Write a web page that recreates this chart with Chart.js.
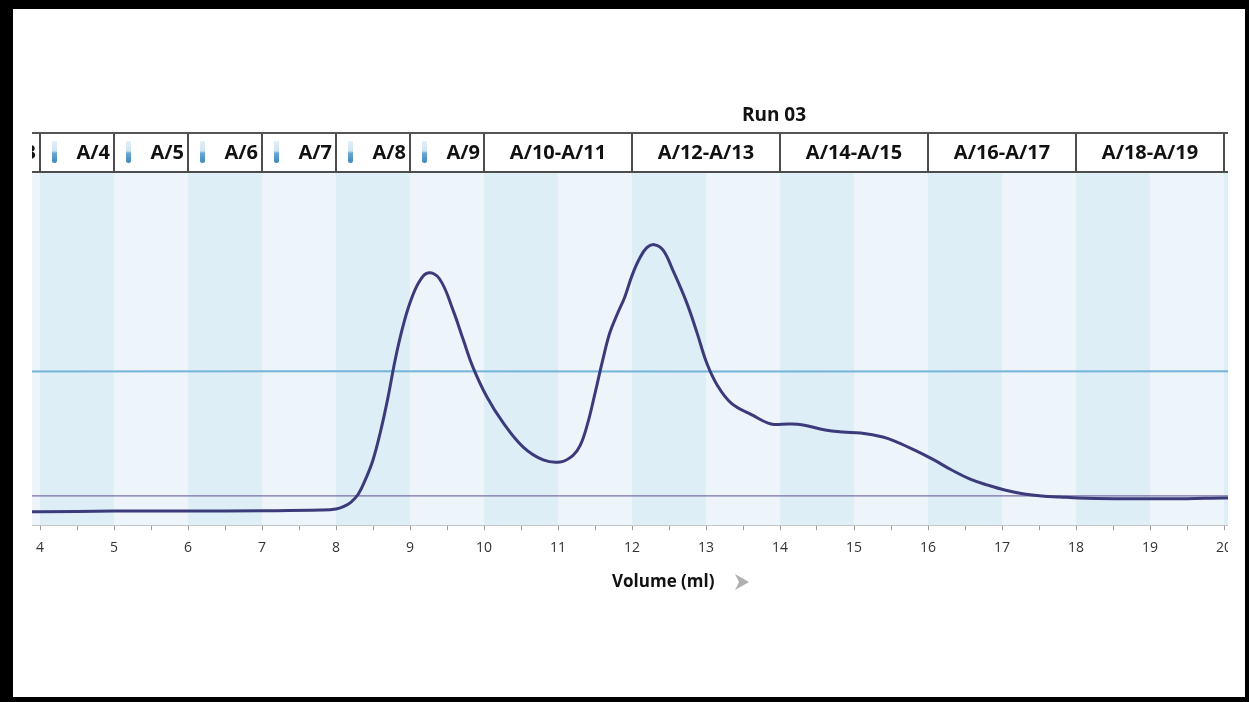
<!DOCTYPE html>
<html>
<head>
<meta charset="utf-8">
<script src="https://cdn.jsdelivr.net/npm/chart.js@4.4.1/dist/chart.umd.min.js"></script>
<style>
  html, body { margin: 0; padding: 0; background: #000; width: 1249px; height: 702px; overflow: hidden; }
  #frame { position: absolute; left: 13px; top: 9px; right: 4px; bottom: 5px; background: #fff; }
  #clip { position: absolute; left: 19px; top: 81px; width: 1196px; height: 540px; overflow: hidden; }
  #chart { position: absolute; left: -66px; top: 0; }
</style>
</head>
<body>
<div id="frame">
  <div id="clip"><canvas id="chart" width="1332" height="540"></canvas></div>
</div>
<script>
// UV trace (volume in ml, absorbance in mAU)
const volume = [3.4, 4.0, 5.0, 6.0, 7.0, 7.8, 8.0, 8.1, 8.2, 8.3, 8.4, 8.5, 8.6, 8.7, 8.8, 8.9, 9.0, 9.12, 9.24,
  9.4, 9.58, 9.72, 9.85, 10.04, 10.26, 10.53, 10.8, 11.03, 11.2, 11.3, 11.4, 11.5, 11.6, 11.7, 11.8, 11.9,
  12.0, 12.1, 12.2, 12.3, 12.42, 12.55, 12.74, 12.88, 13.01, 13.15, 13.34, 13.62, 13.88, 14.12, 14.31, 14.61,
  14.85, 15.09, 15.39, 15.58, 15.82, 16.08, 16.32, 16.57, 16.81, 17.05, 17.3, 17.54, 17.78, 18.04, 18.53,
  19.01, 19.5, 19.99, 20.6];
const uv = [-0.2, -0.2, 0, 0, 0.1, 0.3, 0.6, 1.3, 2.6, 5.0, 9.5, 15.2, 23.5, 33.5, 45.0, 54.5, 61.9, 68.0, 70.8,
  69.0, 59.8, 50.9, 42.8, 33.9, 26.2, 19.0, 15.2, 14.6, 16.5, 19.5, 26.0, 35.0, 44.5, 53.0, 58.5, 63.5,
  70.0, 75.0, 78.3, 79.2, 77.6, 71.7, 61.9, 52.9, 44.0, 37.5, 32.1, 28.6, 25.9, 25.9, 25.6, 24.1,
  23.5, 23.2, 22.0, 20.5, 18.1, 15.2, 12.2, 9.5, 7.7, 6.2, 5.1, 4.5, 4.2, 3.9, 3.7,
  3.7, 3.7, 3.9, 3.9];

// conductivity and concentration traces (flat)
const condVolume = [3.0, 8.0, 13.0, 21.0];
const cond = [41.5, 41.6, 41.5, 41.6];
const concVolume = [3.0, 21.0];
const conc = [4.5, 4.5];

// fractions
const fractionLabels = ['A/3', 'A/4', 'A/5', 'A/6', 'A/7', 'A/8', 'A/9',
  'A/10-A/11', 'A/12-A/13', 'A/14-A/15', 'A/16-A/17', 'A/18-A/19', 'A/20-A/21'];
const fractionStart = [3, 4, 5, 6, 7, 8, 9, 10, 12, 14, 16, 18, 20];
const fractionEnd = [4, 5, 6, 7, 8, 9, 10, 12, 14, 16, 18, 20, 22];

const xMin = 3, xMax = 21;
const labelMin = 4, labelMax = 20;

// canvas sits 34px left of the page edge
const OX = 34, OY = 90;

const pts = (xs, ys) => xs.map((v, i) => ({ x: v, y: ys[i] }));

const decor = {
  id: 'decor',
  beforeDraw(chart) {
    const { ctx, chartArea: a, scales: { x } } = chart;
    ctx.save();
    for (let v = xMin; v < xMax; v++) {
      ctx.fillStyle = v % 2 === 0 ? '#deeef7' : '#edf5fa';
      const l = x.getPixelForValue(v), r = x.getPixelForValue(v + 1);
      ctx.fillRect(l, a.top, r - l, a.bottom - a.top);
    }
    ctx.restore();
  },
  afterDraw(chart) {
    const { ctx, chartArea: a, scales: { x } } = chart;
    const h = 39, top = a.top - h;
    ctx.save();
    ctx.font = 'bold 20px "Open Sans"';
    ctx.textBaseline = 'middle';
    fractionLabels.forEach((lab, i) => {
      const l = x.getPixelForValue(fractionStart[i]);
      const r = x.getPixelForValue(fractionEnd[i]);
      ctx.fillStyle = '#fff';
      ctx.fillRect(l, top, r - l, h);
      ctx.strokeStyle = '#4d4d4d';
      ctx.lineWidth = 2;
      ctx.strokeRect(l, top, r - l, h);
      ctx.fillStyle = '#111';
      if (fractionEnd[i] - fractionStart[i] === 1) {
        // little tube icon
        const tx = l + 12, ty = top + 8;
        const g = ctx.createLinearGradient(0, ty, 0, ty + 22);
        g.addColorStop(0, '#e3f0f8');
        g.addColorStop(0.45, '#cfe4f1');
        g.addColorStop(0.55, '#6aa8d2');
        g.addColorStop(1, '#3f86bb');
        ctx.fillStyle = g;
        ctx.beginPath();
        ctx.roundRect(tx, ty, 5, 22, [1, 1, 2.5, 2.5]);
        ctx.fill();
        ctx.fillStyle = '#111';
        ctx.textAlign = 'right';
        ctx.fillText(lab, r - 4, top + h / 2 + 1);
      } else {
        ctx.textAlign = 'center';
        ctx.fillText(lab, (l + r) / 2, top + h / 2 + 1);
      }
    });
    // top rule of the fraction strip
    ctx.strokeStyle = '#555';
    ctx.lineWidth = 2;
    ctx.beginPath();
    ctx.moveTo(a.left, top);
    ctx.lineTo(a.right, top);
    ctx.stroke();

    // run title
    ctx.font = 'bold 19px "Open Sans"';
    ctx.textAlign = 'center';
    ctx.fillStyle = '#111';
    ctx.fillText('Run 03', 774 + OX, 116 - OY);

    // axis title with arrow
    ctx.font = 'bold 17px "Open Sans"';
    ctx.textAlign = 'left';
    ctx.fillText('Volume (ml)', 612 + OX, 582 - OY);
    ctx.fillStyle = '#b0b0b0';
    ctx.beginPath();
    ctx.moveTo(735 + OX, 574 - OY);
    ctx.lineTo(749 + OX, 582 - OY);
    ctx.lineTo(735 + OX, 590 - OY);
    ctx.lineTo(739 + OX, 582 - OY);
    ctx.closePath();
    ctx.fill();
    ctx.restore();
  }
};

new Chart(document.getElementById('chart'), {
  type: 'line',
  data: {
    datasets: [
      { label: 'UV', data: pts(volume, uv), borderColor: '#3b3a7a', borderWidth: 3,
        pointRadius: 0, tension: 0.4 },
      { label: 'Cond', data: pts(condVolume, cond), borderColor: '#74b3da', borderWidth: 2,
        pointRadius: 0, tension: 0 },
      { label: 'Conc', data: pts(concVolume, conc), borderColor: '#7b6fa6', borderWidth: 1.2,
        pointRadius: 0, tension: 0 }
    ]
  },
  options: {
    responsive: false,
    animation: false,
    layout: { padding: { top: 82, bottom: 65, left: 0, right: 0 } },
    plugins: { legend: { display: false }, tooltip: { enabled: false }, title: { display: false } },
    scales: {
      x: {
        type: 'linear', min: xMin, max: xMax,
        afterFit: (s) => { s.paddingLeft = 0; s.paddingRight = 0; },
        border: { display: true, color: '#c4c4c4' },
        grid: { drawOnChartArea: false, drawTicks: true, tickLength: 5, color: '#9a9a9a' },
        ticks: {
          stepSize: 0.5, autoSkip: false, maxRotation: 0, padding: 9,
          color: '#333', font: { family: '"Open Sans"', size: 14 },
          callback: (v) => (Number.isInteger(v) && v >= labelMin && v <= labelMax) ? String(v) : ''
        }
      },
      y: { type: 'linear', min: -4.2, max: 100.8, display: false }
    }
  },
  plugins: [decor]
});
</script>
</body>
</html>
